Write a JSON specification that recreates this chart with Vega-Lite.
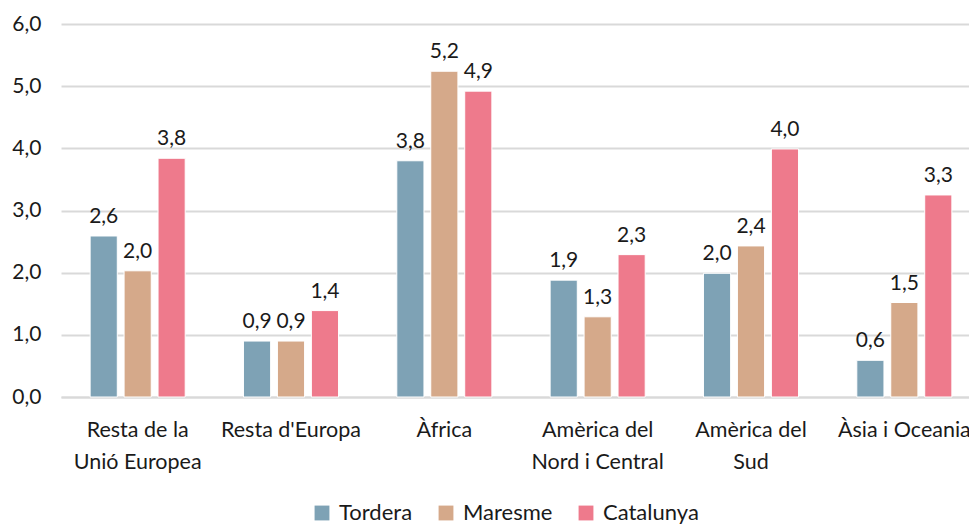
{
  "$schema": "https://vega.github.io/schema/vega-lite/v6.json",
  "width": 920,
  "height": 373,
  "autosize": {"type": "none"},
  "padding": {"left": 61, "top": 24, "right": 0, "bottom": 128},
  "background": "white",
  "config": {
    "locale": {"number": {"decimal": ",", "thousands": ".", "grouping": [3], "currency": ["", " €"]}},
    "font": "Lato",
    "view": {"stroke": null}
  },
  "data": {
    "values": [
      {"regio": "Resta de la Unió Europea", "zona": "Tordera", "valor": 2.59},
      {"regio": "Resta de la Unió Europea", "zona": "Maresme", "valor": 2.03},
      {"regio": "Resta de la Unió Europea", "zona": "Catalunya", "valor": 3.84},
      {"regio": "Resta d'Europa", "zona": "Tordera", "valor": 0.9},
      {"regio": "Resta d'Europa", "zona": "Maresme", "valor": 0.9},
      {"regio": "Resta d'Europa", "zona": "Catalunya", "valor": 1.39},
      {"regio": "Àfrica", "zona": "Tordera", "valor": 3.8},
      {"regio": "Àfrica", "zona": "Maresme", "valor": 5.24},
      {"regio": "Àfrica", "zona": "Catalunya", "valor": 4.92},
      {"regio": "Amèrica del Nord i Central", "zona": "Tordera", "valor": 1.88},
      {"regio": "Amèrica del Nord i Central", "zona": "Maresme", "valor": 1.29},
      {"regio": "Amèrica del Nord i Central", "zona": "Catalunya", "valor": 2.29},
      {"regio": "Amèrica del Sud", "zona": "Tordera", "valor": 1.99},
      {"regio": "Amèrica del Sud", "zona": "Maresme", "valor": 2.43},
      {"regio": "Amèrica del Sud", "zona": "Catalunya", "valor": 3.99},
      {"regio": "Àsia i Oceania", "zona": "Tordera", "valor": 0.59},
      {"regio": "Àsia i Oceania", "zona": "Maresme", "valor": 1.52},
      {"regio": "Àsia i Oceania", "zona": "Catalunya", "valor": 3.25}
    ]
  },
  "encoding": {
    "x": {
      "field": "regio", "type": "nominal", "sort": null,
      "scale": {"paddingInner": 0.38, "paddingOuter": 0.19},
      "axis": {
        "title": null, "labelAngle": 0, "labelFontSize": 21.5, "labelColor": "#1a1a1a",
        "labelLineHeight": 32, "labelPadding": 22, "ticks": false, "labelOverlap": false,
        "domainColor": "#D9D9D9", "domainWidth": 2, "labelLimit": 300,
        "labelExpr": "datum.value == 'Resta de la Unió Europea' ? ['Resta de la', 'Unió Europea'] : datum.value == 'Amèrica del Nord i Central' ? ['Amèrica del', 'Nord i Central'] : datum.value == 'Amèrica del Sud' ? ['Amèrica del', 'Sud'] : datum.value"
      }
    },
    "xOffset": {"field": "zona", "type": "nominal", "sort": ["Tordera", "Maresme", "Catalunya"], "scale": {"paddingInner": 0.2}},
    "y": {
      "field": "valor", "type": "quantitative",
      "scale": {"domain": [0, 6], "nice": false},
      "axis": {
        "title": null, "format": ".1f", "values": [0, 1, 2, 3, 4, 5, 6], "labelOverlap": false,
        "labelFontSize": 21, "labelColor": "#1a1a1a", "labelPadding": 20,
        "domain": false, "ticks": false, "gridColor": "#D9D9D9", "gridWidth": 2
      }
    }
  },
  "layer": [
    {
      "mark": {"type": "bar", "stroke": "white", "strokeWidth": 1},
      "encoding": {
        "color": {
          "field": "zona", "type": "nominal", "sort": ["Tordera", "Maresme", "Catalunya"],
          "scale": {"domain": ["Tordera", "Maresme", "Catalunya"], "range": ["#7EA2B5", "#D5A98A", "#EE7A8C"]},
          "legend": {
            "title": null, "orient": "none", "direction": "horizontal",
            "legendX": 250, "legendY": 478, "symbolType": "square", "symbolSize": 220,
            "symbolStrokeWidth": 0, "labelFontSize": 22, "labelColor": "#1a1a1a",
            "columnPadding": 22, "labelOffset": 6
          }
        }
      }
    },
    {
      "mark": {"type": "text", "baseline": "bottom", "dy": -9, "fontSize": 21, "color": "#1a1a1a"},
      "encoding": {
        "text": {"field": "valor", "type": "quantitative", "format": ".1f"}
      }
    }
  ]
}
